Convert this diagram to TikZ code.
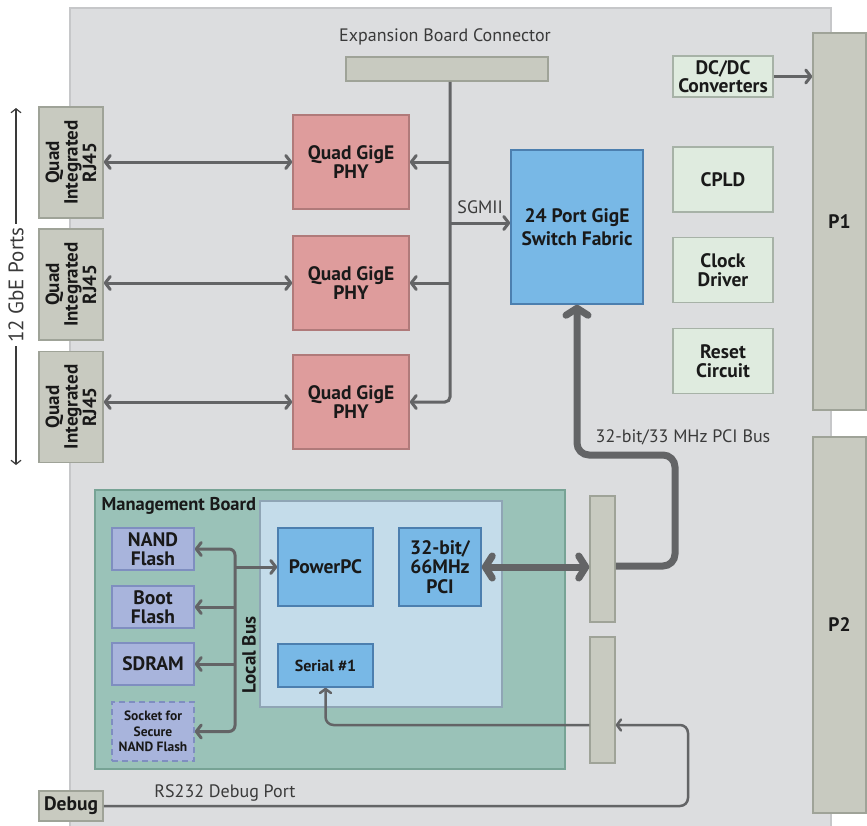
\documentclass[tikz,border=0pt]{standalone}
\usepackage{fontspec}
\setmainfont{PT Sans}
\usetikzlibrary{arrows.meta, positioning, calc}

\definecolor{boardgray}{HTML}{DCDDDF}
\definecolor{boardedge}{HTML}{C6C7C9}
\definecolor{conngray}{HTML}{C8CAC0}
\definecolor{connedge}{HTML}{9FA398}
\definecolor{phyred}{HTML}{DE9C9C}
\definecolor{phyedge}{HTML}{B07A7A}
\definecolor{chipblue}{HTML}{78B8E6}
\definecolor{chipedge}{HTML}{4C7FAF}
\definecolor{palegreen}{HTML}{DFEBDF}
\definecolor{paleedge}{HTML}{A7B2A7}
\definecolor{mgmtgreen}{HTML}{9AC2B8}
\definecolor{mgmtedge}{HTML}{77A395}
\definecolor{cpublue}{HTML}{C4DCEA}
\definecolor{cpuedge}{HTML}{8FA5B5}
\definecolor{flashblue}{HTML}{A8B4DC}
\definecolor{flashedge}{HTML}{7F8EC0}
\definecolor{wiregray}{HTML}{636466}
\definecolor{textgray}{HTML}{3A3A3A}

\tikzset{
  blk/.style={draw, line width=1.5pt, inner sep=0pt, align=center, text=black!90,
    font=\fontsize{19.5}{19.5}\selectfont\bfseries},
  conn/.style={blk, fill=conngray, draw=connedge},
  phy/.style={blk, fill=phyred, draw=phyedge, minimum width=116pt, minimum height=94pt},
  chip/.style={blk, fill=chipblue, draw=chipedge},
  aux/.style={blk, fill=palegreen, draw=paleedge, minimum width=100pt},
  flash/.style={blk, fill=flashblue, draw=flashedge, minimum width=82pt},
  txt/.style={text=textgray, font=\fontsize{18}{20}\selectfont},
  wire/.style={draw=wiregray, line width=3pt, >={Straight Barb[length=5pt,width=13pt,round]}},
  thinwire/.style={draw=wiregray, line width=2.5pt, >={Straight Barb[length=4pt,width=11pt,round]}},
  bus/.style={draw=wiregray, line width=7pt, >={Straight Barb[length=7pt,width=22pt,round]}},
}

\begin{document}
\begin{tikzpicture}[x=1pt, y=-1pt]
  \useasboundingbox (0,0) rectangle (867,825);
  \draw[fill=boardgray, draw=boardedge, line width=1.5pt] (70,8) rectangle (831,840);

  \node[txt] (explabel) at (445,37) {Expansion Board Connector};
  \node[conn, minimum width=202pt, minimum height=24pt] (expcon) at (447,69) {};

  \node[txt, rotate=90, font=\fontsize{21}{21}\selectfont] (ports) at (16,285) {12 GbE Ports};
  \coordinate (portstop) at (16,108);
  \coordinate (portsbot) at (16,465);
  \draw[textgray, line width=1.2pt, -{Straight Barb[length=4pt,width=10pt]}] (ports.east) -- (portstop);
  \draw[textgray, line width=1.2pt, -{Straight Barb[length=4pt,width=10pt]}] (ports.west) -- (portsbot);

  \foreach \n/\y in {1/162.5, 2/284.5, 3/407} {
    \node[conn, rotate=90, minimum width=111pt, minimum height=64pt,
      font=\fontsize{19}{18.5}\selectfont\bfseries] (rj\n) at (71,\y) {Quad\\Integrated\\RJ45};
  }
  \foreach \n/\y in {1/162, 2/283, 3/402} {
    \node[phy] (phy\n) at (351,\y) {Quad GigE\\PHY};
    \draw[wire, <->] (phy\n.west -| rj\n.south) -- (phy\n.west);
  }

  \node[chip, minimum width=132pt, minimum height=154pt, font=\fontsize{19.5}{23}\selectfont\bfseries] (switch) at (577,227) {24 Port GigE\\Switch Fabric};

  \coordinate (sgmii) at (450,223);
  \draw[wire, ->, rounded corners=5pt] (expcon.south -| sgmii) |- (phy3.east);
  \draw[wire, ->] (phy1.east -| sgmii) -- (phy1.east);
  \draw[wire, ->] (phy2.east -| sgmii) -- (phy2.east);
  \draw[wire, ->] (sgmii) -- (sgmii -| switch.west) node[txt, midway, above=4pt] {SGMII};

  \node[aux, minimum height=41pt, font=\fontsize{19.5}{18}\selectfont\bfseries] (dcdc) at (723,76.5) {DC/DC\\Converters};
  \node[aux, minimum height=65pt] (cpld) at (723,179.5) {CPLD};
  \node[aux, minimum height=65pt] (clock) at (723,270) {Clock\\Driver};
  \node[aux, minimum height=65pt] (reset) at (723,361) {Reset\\Circuit};

  \node[conn, minimum width=53pt, minimum height=377pt] (p1) at (839.5,221.5) {P1};
  \node[conn, minimum width=53pt, minimum height=376pt] (p2) at (839.5,625) {P2};
  \draw[wire, ->] (dcdc.east) -- (dcdc.east -| p1.west);

  \node[blk, fill=mgmtgreen, draw=mgmtedge, minimum width=470pt, minimum height=279pt] (mgmt) at (330,629.5) {};
  \node[txt, text=black!90, font=\fontsize{18.5}{19}\selectfont\bfseries, anchor=west] (mgmtlabel) at (98,506) {Management Board};
  \node[blk, fill=cpublue, draw=cpuedge, minimum width=242pt, minimum height=206pt] (cpu) at (381,604) {};

  \node[chip, minimum width=95pt, minimum height=78pt] (ppc) at (325.5,567) {PowerPC};
  \node[chip, minimum width=82pt, minimum height=78pt] (pci) at (440,567) {32-bit/\\66MHz\\PCI};
  \node[chip, minimum width=95pt, minimum height=43pt, font=\fontsize{16}{19}\selectfont\bfseries] (serial) at (325.5,665.5) {Serial \#1};

  \node[flash, minimum height=42pt] (nand) at (153,549) {NAND\\Flash};
  \node[flash, minimum height=42pt] (boot) at (153,607) {Boot\\Flash};
  \node[flash, minimum height=42pt] (sdram) at (153,664) {SDRAM};
  \node[flash, minimum height=59pt, dashed, dash pattern=on 6pt off 4pt,
    font=\fontsize{13.5}{15.5}\selectfont\bfseries] (socket) at (153,731.5) {Socket for\\Secure\\NAND Flash};

  \node[conn, minimum width=25pt, minimum height=126pt] (slotA) at (602.5,559) {};
  \node[conn, minimum width=25pt, minimum height=126pt] (slotB) at (602.5,700) {};

  \coordinate (lbus) at (235,0);
  \draw[wire, <->, rounded corners=6pt] (nand.east) -| (lbus |- socket.east) -- (socket.east);
  \draw[wire, ->] (lbus |- boot.east) -- (boot.east);
  \draw[wire, ->] (lbus |- sdram.east) -- (sdram.east);
  \draw[wire, ->] (lbus |- ppc.west) -- (ppc.west);
  \node[txt, text=black!90, font=\fontsize{19}{19}\selectfont\bfseries, rotate=90] (lbuslabel) at (249,655) {Local Bus};

  \coordinate (pcilink) at (675,455);
  \coordinate (pcijoin) at (0,566);
  \draw[bus, <-, rounded corners=12pt] (switch.south) |- (pcilink) |- (slotA.east |- pcijoin);
  \node[txt] (pcilabel) at (683,437) {32-bit/33 MHz PCI Bus};
  \draw[bus, <->] (pci.east) -- (pci.east -| slotA.west);

  \coordinate (serlink) at (0,725);
  \draw[thinwire, ->, rounded corners=8pt] (slotB.west |- serlink) -| (serial.south);

  \node[conn, minimum width=64pt, minimum height=30pt] (debug) at (71,806) {Debug};
  \coordinate (rsturn) at (688,725);
  \draw[thinwire, ->, rounded corners=8pt] (debug.east) -| (rsturn) -- (slotB.east |- rsturn);
  \node[txt] (rslabel) at (225,793) {RS232 Debug Port};
\end{tikzpicture}
\end{document}
